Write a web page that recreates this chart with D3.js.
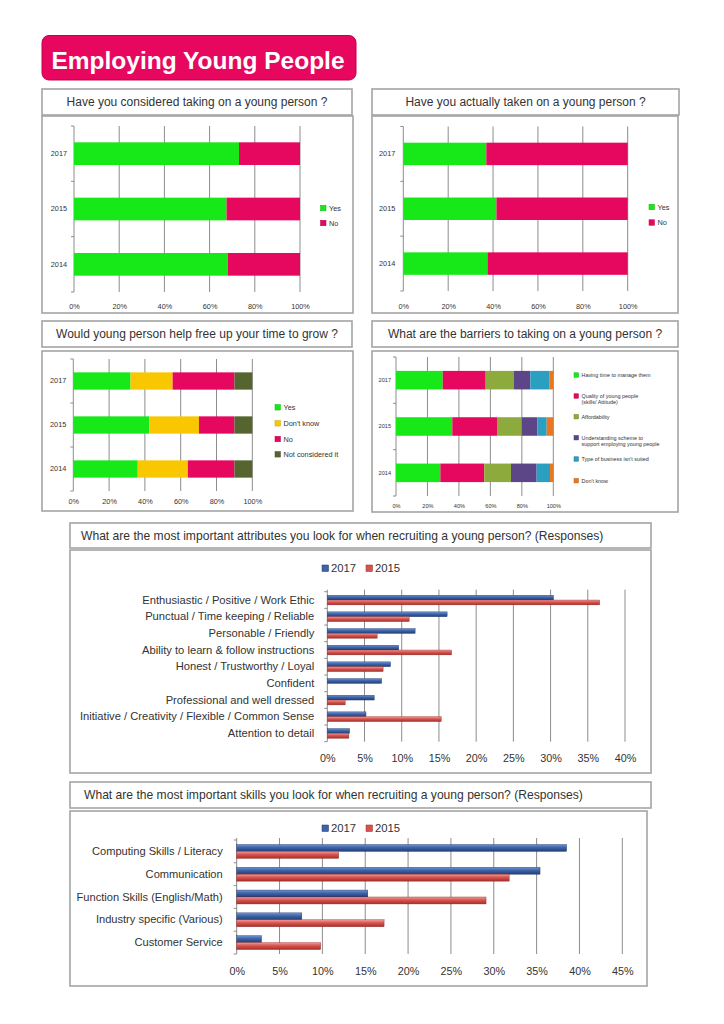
<!DOCTYPE html>
<html><head><meta charset="utf-8">
<script src="https://cdn.jsdelivr.net/npm/d3@7"></script>
<style>
body{margin:0;background:#fff}
svg{display:block}
text{font-family:"Liberation Sans",Arial,Helvetica,sans-serif;fill:#333}
</style>
</head><body>
<svg id="c" width="724" height="1024"></svg>
<script>
// ---------------- DATA ----------------
const pageTitle = "Employing Young People";
const years = ["2017", "2015", "2014"];
const pctTicks100 = [0, 20, 40, 60, 80, 100];

// Chart 1: Have you considered taking on a young person ?
const considerTitle = "Have you considered taking on a young person ?";
const considerKeys = ["Yes", "No"];
const considerYes = [73, 67.5, 68];
const considerNo = [27, 32.5, 32];

// Chart 2: Have you actually taken on a young person ?
const takenTitle = "Have you actually taken on a young person ?";
const takenKeys = ["Yes", "No"];
const takenYes = [37, 41.5, 37.5];
const takenNo = [63, 58.5, 62.5];

// Chart 3: Would young person help free up your time to grow ?
const freeTitle = "Would young person help free up your time to grow ?";
const freeKeys = ["Yes", "Don't know", "No", "Not considered it"];
const freeYes = [32, 42.5, 36];
const freeDontKnow = [23.5, 27.7, 28];
const freeNo = [34.5, 19.8, 26];
const freeNotConsidered = [10, 10, 10];

// Chart 4: What are the barriers to taking on a young person ?
const barrierTitle = "What are the barriers to taking on a young person ?";
const barrierKeys = ["Having time to manage them", "Quality of young people (skills/ Attitude)", "Affordability",
  "Understanding scheme to support employing young people", "Type of business isn't suited", "Don't know"];
const barrierLegendLines = [["Having time to manage them"], ["Quality of young people", "(skills/ Attitude)"], ["Affordability"],
  ["Understanding scheme to", "support employing young people"], ["Type of business isn't suited"], ["Don't know"]];
const barrierTime = [29.7, 35.8, 28.2];
const barrierQuality = [27.3, 28.4, 27.9];
const barrierAfford = [18, 15.7, 17];
const barrierScheme = [10.4, 9.9, 16.3];
const barrierType = [12.3, 6, 8.5];
const barrierDontKnow = [2.3, 4.2, 2.1];

// Chart 5: attributes
const attrTitle = "What are the most important attributes you look for when recruiting a young person? (Responses)";
const seriesYears = ["2017", "2015"];
const attrCats = ["Enthusiastic / Positive / Work Ethic", "Punctual / Time keeping / Reliable", "Personable / Friendly",
  "Ability to learn & follow instructions", "Honest / Trustworthy / Loyal", "Confident", "Professional and well dressed",
  "Initiative / Creativity / Flexible / Common Sense", "Attention to detail"];
const attr2017 = [30.4, 16.1, 11.8, 9.6, 8.5, 7.3, 6.3, 5.2, 3.0];
const attr2015 = [36.6, 11.0, 6.7, 16.7, 7.5, 0, 2.4, 15.3, 2.9];
const attrTicks = [0, 5, 10, 15, 20, 25, 30, 35, 40];

// Chart 6: skills
const skillTitle = "What are the most important skills you look for when recruiting a young person? (Responses)";
const skillCats = ["Computing Skills / Literacy", "Communication", "Function Skills (English/Math)",
  "Industry specific (Various)", "Customer Service"];
const skill2017 = [38.5, 35.4, 15.3, 7.6, 2.9];
const skill2015 = [11.9, 31.8, 29.1, 17.2, 9.8];
const skillTicks = [0, 5, 10, 15, 20, 25, 30, 35, 40, 45];

// ---------------- DRAW ----------------
const svg = d3.select("#c");
const defs = svg.append("defs");
function grad(id, stops) {
  const lg = defs.append("linearGradient").attr("id", id).attr("x1", 0).attr("y1", 0).attr("x2", 0).attr("y2", 1);
  stops.forEach(s => lg.append("stop").attr("offset", s[0]).attr("stop-color", s[1]));
}
grad("gBlue", [["0%", "#7095d4"], ["45%", "#3d63a8"], ["100%", "#233f75"]]);
grad("gRed", [["0%", "#f59a96"], ["45%", "#d8534e"], ["100%", "#a3302d"]]);

const GRID = "#8c8c8c";
const BORDER = "#a4a4a4";

function box(x, y, w, h) {
  svg.append("rect").attr("x", x).attr("y", y).attr("width", w).attr("height", h)
    .attr("fill", "#fff").attr("stroke", BORDER).attr("stroke-width", 1.6);
}
function titleBox(x, y, w, h, txt, align, size, tx) {
  box(x, y, w, h);
  svg.append("text").attr("x", align === "middle" ? x + w / 2 : tx).attr("y", y + h / 2)
    .attr("dy", "0.35em").attr("text-anchor", align === "middle" ? "middle" : "start")
    .attr("font-size", size).text(txt);
}

// Page title
svg.append("rect").attr("x", 42).attr("y", 35.5).attr("width", 314).attr("height", 44.5).attr("rx", 7)
  .attr("fill", "#e8075f").attr("stroke", "#c4004c").attr("stroke-width", 1);
svg.append("text").attr("x", 198).attr("y", 60).attr("dy", "0.35em").attr("text-anchor", "middle")
  .attr("font-size", 24.5).attr("font-weight", "bold").style("fill", "#fff").text(pageTitle);

function stacked(o) {
  const g = svg.append("g");
  const x = d3.scaleLinear().domain([0, 100]).range([o.x0, o.x1]);
  const y = d3.scaleBand().domain(years).range([o.yTop, o.yBot]).paddingInner(o.pad).paddingOuter(o.pad / 2);
  g.selectAll(".grid").data(pctTicks100.slice(1)).join("line")
    .attr("x1", d => x(d)).attr("x2", d => x(d)).attr("y1", o.yTop).attr("y2", o.yBot)
    .attr("stroke", GRID).attr("stroke-width", 1);
  g.append("line").attr("x1", o.x0).attr("x2", o.x0).attr("y1", o.yTop).attr("y2", o.yBot).attr("stroke", GRID);
  const bounds = d3.range(years.length + 1).map(i => o.yTop + i * (o.yBot - o.yTop) / years.length);
  g.selectAll(".bt").data(bounds).join("line").attr("x1", o.x0 - 3).attr("x2", o.x0)
    .attr("y1", d => d).attr("y2", d => d).attr("stroke", GRID);
  const rows = years.map((yr, i) => { const r = { year: yr }; o.keys.forEach((k, j) => r[k] = o.values[j][i]); return r; });
  const st = d3.stack().keys(o.keys)(rows);
  st.forEach((layer, j) => {
    g.selectAll(null).data(layer).join("rect")
      .attr("x", d => x(d[0])).attr("width", d => Math.max(0, x(d[1]) - x(d[0])))
      .attr("y", d => y(d.data.year)).attr("height", y.bandwidth())
      .attr("fill", o.colors[j]);
  });
  const xa = g.append("g").attr("transform", `translate(0,${o.yBot})`)
    .call(d3.axisBottom(x).tickValues(pctTicks100).tickFormat(d => d + "%").tickSize(0));
  xa.select(".domain").remove();
  xa.selectAll("text").attr("y", o.xLabY - o.yBot).attr("dy", "0.35em").attr("font-size", o.fs)
    .style("font-family", "Liberation Sans, Arial, sans-serif").style("fill", "#333");
  const ya = g.append("g").attr("transform", `translate(${o.x0},0)`)
    .call(d3.axisLeft(y).tickSize(0).tickPadding(o.yPad));
  ya.select(".domain").remove();
  ya.selectAll("text").attr("font-size", o.fs).style("font-family", "Liberation Sans, Arial, sans-serif").style("fill", "#333");
  o.legend.forEach((lines, j) => {
    const ly = o.legY[j];
    g.append("rect").attr("x", o.legX).attr("y", ly - o.sq / 2).attr("width", o.sq).attr("height", o.sq)
      .attr("fill", o.colors[j]).attr("stroke", d3.color(o.colors[j]).darker(0.6)).attr("stroke-width", 0.5);
    const t = g.append("text").attr("x", o.legX + o.sq + 3).attr("y", ly).attr("font-size", o.lfs);
    lines.forEach((ln, k) => t.append("tspan").attr("x", o.legX + o.sq + 3).attr("dy", k === 0 ? "0.35em" : "1.15em").text(ln));
  });
}

function grouped(o) {
  const g = svg.append("g");
  const x = d3.scaleLinear().domain([0, o.ticks[o.ticks.length - 1]]).range([o.x0, o.x1]);
  const y = d3.scaleBand().domain(o.cats).range([o.yTop, o.yBot]).paddingInner(o.pad).paddingOuter(o.pad / 2);
  const sub = d3.scaleBand().domain(seriesYears).range([0, y.bandwidth()]);
  g.selectAll(".grid").data(o.ticks.slice(1)).join("line")
    .attr("x1", d => x(d)).attr("x2", d => x(d)).attr("y1", o.yTop - 2).attr("y2", o.yBot)
    .attr("stroke", GRID).attr("stroke-width", 1);
  g.append("line").attr("x1", o.x0).attr("x2", o.x0).attr("y1", o.yTop - 2).attr("y2", o.yBot).attr("stroke", GRID);
  const bounds = d3.range(o.cats.length + 1).map(i => o.yTop + i * (o.yBot - o.yTop) / o.cats.length);
  g.selectAll(".bt").data(bounds).join("line").attr("x1", o.x0 - 3).attr("x2", o.x0)
    .attr("y1", d => d).attr("y2", d => d).attr("stroke", GRID);
  const rows = o.cats.map((c, i) => ({ cat: c, "2017": o.v2017[i], "2015": o.v2015[i] }));
  const fills = { "2017": "url(#gBlue)", "2015": "url(#gRed)" };
  const strokes = { "2017": "#1e3766", "2015": "#8e2a27" };
  seriesYears.forEach(s => {
    g.selectAll(null).data(rows.filter(r => r[s] > 0)).join("rect")
      .attr("x", o.x0).attr("width", d => x(d[s]) - o.x0)
      .attr("y", d => y(d.cat) + sub(s)).attr("height", sub.bandwidth())
      .attr("fill", fills[s]).attr("stroke", strokes[s]).attr("stroke-width", 0.4);
  });
  const xa = g.append("g").attr("transform", `translate(0,${o.yBot})`)
    .call(d3.axisBottom(x).tickValues(o.ticks).tickFormat(d => d + "%").tickSize(0));
  xa.select(".domain").remove();
  xa.selectAll("text").attr("y", o.xLabY - o.yBot).attr("dy", "0.35em").attr("font-size", o.fs)
    .style("font-family", "Liberation Sans, Arial, sans-serif").style("fill", "#333");
  const ya = g.append("g").attr("transform", `translate(${o.x0},0)`)
    .call(d3.axisLeft(y).tickSize(0).tickPadding(o.yPad));
  ya.select(".domain").remove();
  ya.selectAll("text").attr("font-size", o.cfs).style("font-family", "Liberation Sans, Arial, sans-serif").style("fill", "#333");
  const lc = { "2017": "#3d63a8", "2015": "#d8534e" };
  seriesYears.forEach((s, j) => {
    const lx = o.legX + j * 44;
    g.append("rect").attr("x", lx).attr("y", o.legY - 3.5).attr("width", 6.5).attr("height", 6.5)
      .attr("fill", lc[s]).attr("stroke", strokes[s]).attr("stroke-width", 0.5);
    g.append("text").attr("x", lx + 9).attr("y", o.legY).attr("dy", "0.35em").attr("font-size", o.lfs).text(s);
  });
}

// Panel 1
titleBox(42, 89, 310, 26, considerTitle, "middle", 12);
box(42, 116, 311, 197);
stacked({ x0: 74, x1: 300, yTop: 126, yBot: 292, pad: 0.59, keys: considerKeys, values: [considerYes, considerNo],
  colors: ["#17e817", "#e6075f"], fs: 7.3, lfs: 7.3, xLabY: 306, yPad: 7, legX: 320.5, legY: [208, 223],
  legend: [["Yes"], ["No"]], sq: 5.5 });

// Panel 2
titleBox(372, 89, 307, 26, takenTitle, "middle", 12);
box(372, 116, 306, 197);
stacked({ x0: 403.3, x1: 627.7, yTop: 126.5, yBot: 291, pad: 0.59, keys: takenKeys, values: [takenYes, takenNo],
  colors: ["#17e817", "#e6075f"], fs: 7.3, lfs: 7.3, xLabY: 306, yPad: 8, legX: 649, legY: [207, 222.5],
  legend: [["Yes"], ["No"]], sq: 5.5 });

// Panel 3
titleBox(42, 321, 310, 26, freeTitle, "middle", 12);
box(42, 351, 311, 160);
stacked({ x0: 73.3, x1: 252.3, yTop: 359, yBot: 491, pad: 0.607, keys: freeKeys,
  values: [freeYes, freeDontKnow, freeNo, freeNotConsidered],
  colors: ["#17e817", "#f9c700", "#e6075f", "#56652f"], fs: 7.3, lfs: 7.3, xLabY: 501.7, yPad: 7, legX: 275, legY: [407.3, 423.3, 439, 454.3],
  legend: [["Yes"], ["Don't know"], ["No"], ["Not considered it"]], sq: 5.5 });

// Panel 4
titleBox(372, 321, 306, 26, barrierTitle, "middle", 12);
box(372, 351, 306, 161);
stacked({ x0: 396, x1: 553.3, yTop: 357, yBot: 496, pad: 0.6, keys: barrierKeys,
  values: [barrierTime, barrierQuality, barrierAfford, barrierScheme, barrierType, barrierDontKnow],
  colors: ["#17e817", "#e6075f", "#8cab3c", "#5c4688", "#2a9fbf", "#e87722"], fs: 5.6, lfs: 5.4, xLabY: 505.7, yPad: 5,
  legX: 574, legY: [375, 396, 416.7, 437.7, 459, 480.7], legend: barrierLegendLines, sq: 4.5 });

// Panel 5
titleBox(70, 523, 581, 25, attrTitle, "start", 12.1, 81);
box(70, 550, 581, 223);
grouped({ x0: 327.3, x1: 625, yTop: 591.7, yBot: 741.7, pad: 0.42, cats: attrCats, v2017: attr2017, v2015: attr2015,
  ticks: attrTicks, fs: 10.8, cfs: 11.2, xLabY: 758.5, yPad: 13, legX: 322, legY: 568.5, lfs: 11.3 });

// Panel 6
titleBox(70, 782, 581, 26, skillTitle, "start", 12.1, 84);
box(70, 811, 577, 175);
grouped({ x0: 236.7, x1: 622.3, yTop: 840, yBot: 954, pad: 0.39, cats: skillCats, v2017: skill2017, v2015: skill2015,
  ticks: skillTicks, fs: 10.8, cfs: 11.1, xLabY: 971.5, yPad: 14, legX: 322, legY: 828.5, lfs: 11.3 });
</script>
</body></html>
